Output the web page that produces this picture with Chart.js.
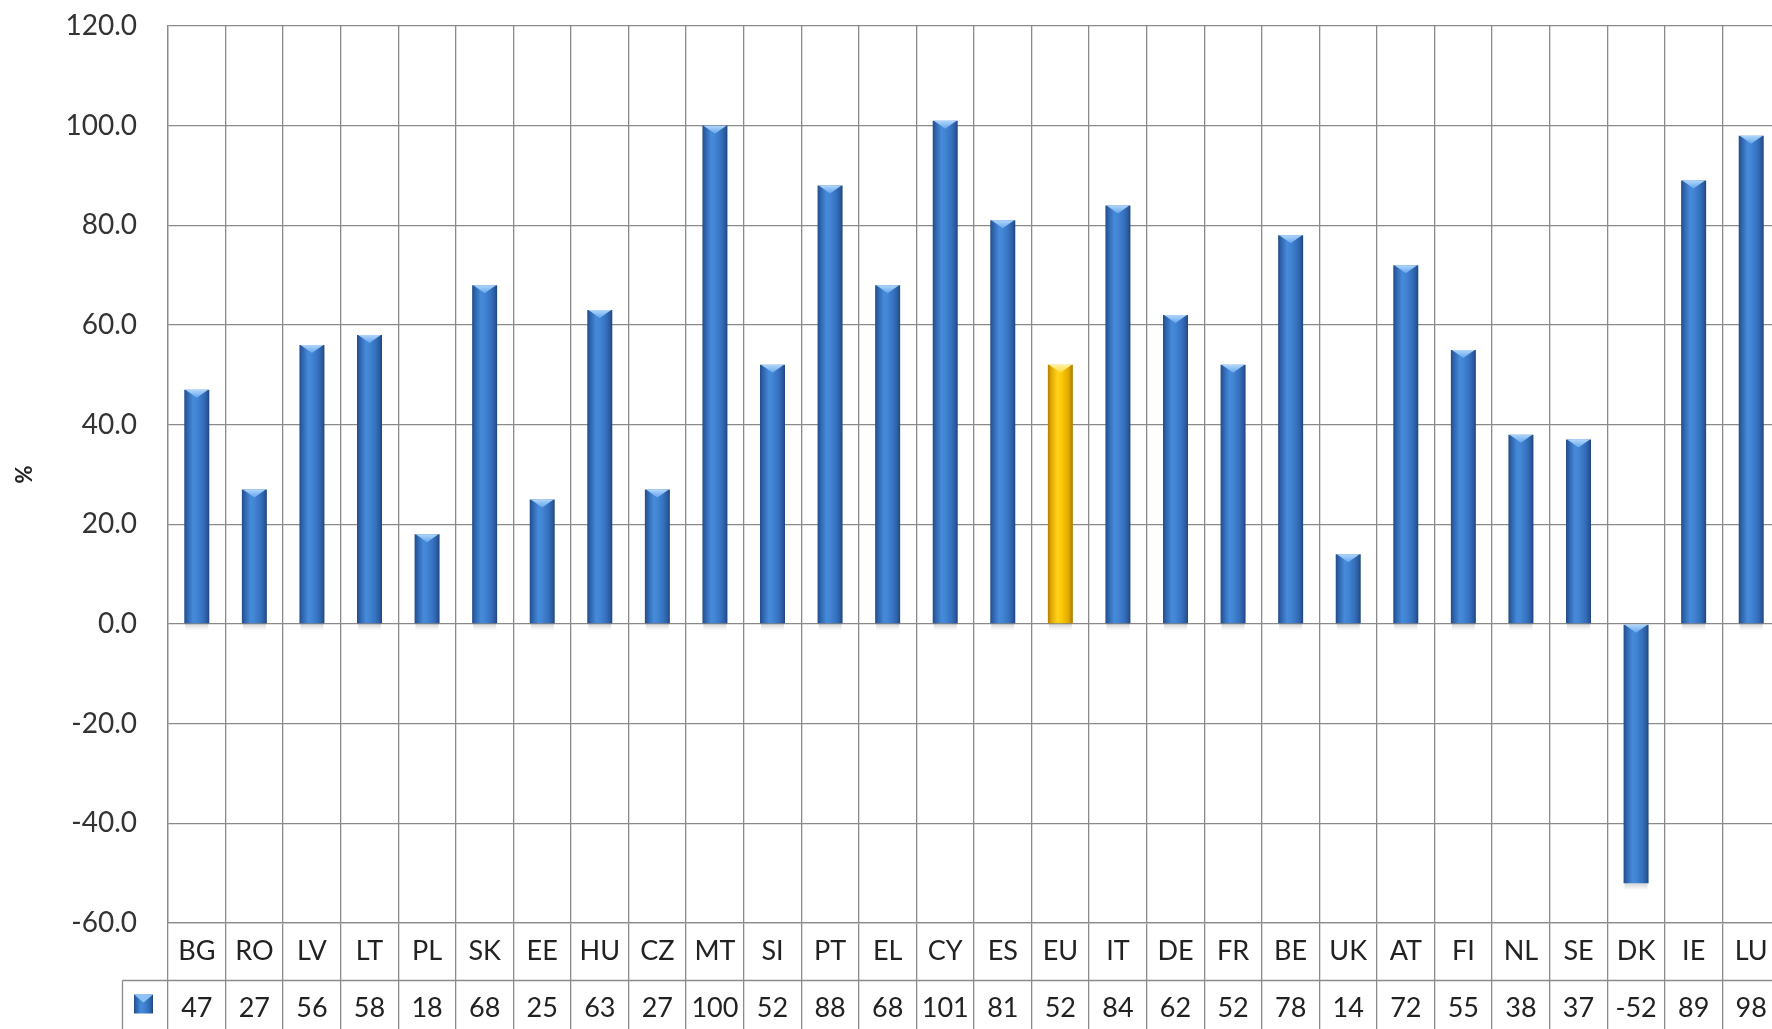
<!DOCTYPE html>
<html>
<head>
<meta charset="utf-8">
<script src="https://cdn.jsdelivr.net/npm/chart.js@4.4.1/dist/chart.umd.min.js"></script>
<style>
  html, body { margin: 0; padding: 0; background: #ffffff; overflow: hidden; }
  #wrap { position: absolute; left: 0; top: 0; width: 1781px; height: 1045px; }
</style>
</head>
<body>
<div id="wrap"><canvas id="chart"></canvas></div>
<script>
// Country codes along the x axis
const countries = ['BG','RO','LV','LT','PL','SK','EE','HU','CZ','MT','SI','PT','EL','CY','ES','EU','IT','DE','FR','BE','UK','AT','FI','NL','SE','DK','IE','LU'];
// Percentage change per country (as listed in the data table)
const values = [47,27,56,58,18,68,25,63,27,100,52,88,68,101,81,52,84,62,52,78,14,72,55,38,37,-52,89,98];
// Category highlighted in yellow
const highlighted = ['EU'];
// Y axis range and step
const yTicks = { min: -60, max: 120, step: 20 };

const BAR_PCT = 0.434;
const FONT = 'Lato, "Open Sans", sans-serif';
const GRID = '#8a8a8a';

const blueStops = [[0,'#234c85'],[0.12,'#2e64ad'],[0.35,'#468ada'],[0.5,'#4285d4'],[0.75,'#3570be'],[0.9,'#2b5ca0'],[1,'#1f447a']];
const goldStops = [[0,'#b07f00'],[0.14,'#e3a900'],[0.38,'#ffd21c'],[0.55,'#fdca05'],[0.82,'#e2aa00'],[1,'#a87a00']];

function barGradient(c) {
  const chart = c.chart;
  const xs = chart.scales.x;
  const stops = highlighted.includes(countries[c.dataIndex]) ? goldStops : blueStops;
  if (!xs || !isFinite(xs.width) || xs.width <= 0) return stops[2][1];
  const cx = xs.getPixelForValue(c.dataIndex);
  const half = xs.width / countries.length * BAR_PCT / 2;
  const g = chart.ctx.createLinearGradient(cx - half, 0, cx + half, 0);
  stops.forEach(s => g.addColorStop(s[0], s[1]));
  return g;
}

// Bevelled tops, soft foot shadow and the data table frame below the plot
const decor = {
  id: 'decor',
  beforeDatasetsDraw(chart) {
    const ctx = chart.ctx;
    const meta = chart.getDatasetMeta(0);
    ctx.save();
    meta.data.forEach(el => {
      const { x, y, base, width } = el.getProps(['x','y','base','width'], true);
      const bottom = Math.max(y, base);
      const g = ctx.createLinearGradient(0, bottom, 0, bottom + 7);
      g.addColorStop(0, 'rgba(60,60,60,0.22)');
      g.addColorStop(1, 'rgba(60,60,60,0)');
      ctx.fillStyle = g;
      ctx.fillRect(x - width / 2 + 1, bottom, width - 2, 7);
    });
    ctx.restore();
  },
  afterDatasetsDraw(chart) {
    const ctx = chart.ctx;
    const meta = chart.getDatasetMeta(0);
    ctx.save();
    meta.data.forEach((el, i) => {
      const { x, y, base, width } = el.getProps(['x','y','base','width'], true);
      const top = Math.min(y, base);
      const gold = highlighted.includes(countries[i]);
      const w = width / 2;
      const depth = 8;
      ctx.beginPath();
      ctx.moveTo(x - w + 1, top);
      ctx.lineTo(x + w - 1, top);
      ctx.lineTo(x + w - 4, top + 2);
      ctx.lineTo(x, top + depth);
      ctx.lineTo(x - w + 4, top + 2);
      ctx.closePath();
      const g = ctx.createLinearGradient(0, top, 0, top + depth);
      g.addColorStop(0, gold ? '#fff2a0' : '#b0d6fc');
      g.addColorStop(1, gold ? '#ffd83a' : '#66a6ec');
      ctx.fillStyle = g;
      ctx.fill();
    });
    ctx.restore();
  },
  afterDraw(chart) {
    const ctx = chart.ctx;
    const xs = chart.scales.x;
    const area = chart.chartArea;
    const lh = xs.options.ticks.font.lineHeight * xs.options.ticks.font.size;
    const rowY = Math.round(xs.top + lh) + 0.5;
    const keyLeft = 122.5;
    ctx.save();
    ctx.strokeStyle = GRID;
    ctx.lineWidth = 1.3;
    ctx.beginPath();
    ctx.moveTo(keyLeft, rowY);
    ctx.lineTo(area.right + 2, rowY);
    ctx.moveTo(keyLeft, rowY);
    ctx.lineTo(keyLeft, chart.height);
    ctx.stroke();
    // legend key in the data row
    const kx = 134, ky = rowY + 14, ks = 19;
    const kg = ctx.createLinearGradient(kx, 0, kx + ks, 0);
    blueStops.forEach(s => kg.addColorStop(s[0], s[1]));
    ctx.fillStyle = kg;
    ctx.fillRect(kx, ky, ks, ks);
    ctx.beginPath();
    ctx.moveTo(kx, ky);
    ctx.lineTo(kx + ks, ky);
    ctx.lineTo(kx + ks / 2, ky + 8);
    ctx.closePath();
    ctx.fillStyle = '#8fc3f5';
    ctx.fill();
    ctx.restore();
  }
};

new Chart(document.getElementById('chart'), {
  type: 'bar',
  data: {
    labels: countries.map((c, i) => [c, String(values[i])]),
    datasets: [{
      data: values,
      backgroundColor: barGradient,
      borderWidth: 0,
      barPercentage: BAR_PCT,
      categoryPercentage: 1
    }]
  },
  options: {
    responsive: true,
    maintainAspectRatio: false,
    animation: false,
    layout: { padding: { top: 26, right: 1, bottom: 0, left: 0 } },
    plugins: {
      legend: { display: false },
      tooltip: { enabled: false }
    },
    scales: {
      x: {
        type: 'category',
        offset: true,
        grid: {
          offset: true,
          color: GRID,
          lineWidth: 1.3,
          drawTicks: true,
          tickLength: 130,
          tickColor: GRID,
          tickWidth: 1.3
        },
        border: { display: true, color: GRID, width: 1.3 },
        ticks: {
          autoSkip: false,
          maxRotation: 0,
          minRotation: 0,
          padding: -130,
          color: '#222222',
          font: { family: FONT, size: 27, lineHeight: 2.1 }
        },
        afterFit(s) { s.height = 122; }
      },
      y: {
        min: yTicks.min,
        max: yTicks.max,
        ticks: {
          stepSize: yTicks.step,
          padding: 0,
          color: '#333333',
          font: { family: FONT, size: 28 },
          callback: v => Number(v).toFixed(1)
        },
        grid: { color: GRID, lineWidth: 1.3, drawTicks: true, tickLength: 31, tickColor: 'rgba(0,0,0,0)' },
        border: { display: true, color: GRID, width: 1.3 },
        title: {
          display: true,
          text: '%',
          color: '#222222',
          font: { family: FONT, size: 22, weight: 'bold' },
          padding: { top: 12, bottom: 0 }
        },
        afterFit(s) { s.width = 168; }
      }
    }
  },
  plugins: [decor]
});
</script>
</body>
</html>
